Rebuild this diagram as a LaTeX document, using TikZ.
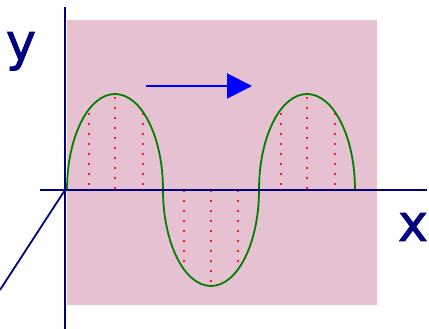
\documentclass[tikz,border=0pt]{standalone}
\usepackage{fontspec}
\newfontfamily\labelfont[FakeBold=1.5]{DejaVu Sans}
\usetikzlibrary{arrows.meta}
\definecolor{wavebg}{RGB}{230,193,210}
\definecolor{axisnavy}{RGB}{0,0,128}
\definecolor{wavegreen}{RGB}{0,128,0}
\definecolor{dotred}{RGB}{255,30,30}
\begin{document}
\begin{tikzpicture}[x=1pt, y=1pt, line width=1.8pt]
\tikzset{
	wvaxis/.style={draw=axisnavy, line width=1.8pt},
	wvcurve/.style={draw=wavegreen, line width=1.8pt},
	wvdot/.style={fill=dotred},
	wvlabel/.style={text=axisnavy, anchor=base, inner sep=0pt, font=\labelfont\fontsize{51}{60}\selectfont},
	wvarrow/.style={draw=blue, line width=2pt, -{Triangle[length=25pt, width=25pt]}}
}
\useasboundingbox (-65,-139) rectangle (364,190);

\fill[wavebg] (2,-115) rectangle (312,170);

\foreach \cx in {50,242} {
	\foreach \k in {0,...,9}
		\fill[wvdot] (\cx-1,2+10*\k-1) rectangle (\cx+1,2+10*\k+1);
	\foreach \k in {0,...,7} {
		\fill[wvdot] (\cx-27,6+10*\k-1) rectangle (\cx-25,6+10*\k+1);
		\fill[wvdot] (\cx+27,6+10*\k-1) rectangle (\cx+29,6+10*\k+1);
	}
}
\foreach \k in {0,...,9}
	\fill[wvdot] (145,-1-10*\k-1) rectangle (147,-1-10*\k+1);
\foreach \k in {0,...,7} {
	\fill[wvdot] (118,-1-10*\k-1) rectangle (120,-1-10*\k+1);
	\fill[wvdot] (172,-1-10*\k-1) rectangle (174,-1-10*\k+1);
}

\draw[wvcurve] (2,0) arc[start angle=180, end angle=0, x radius=48, y radius=96]
	arc[start angle=180, end angle=360, x radius=48, y radius=96]
	arc[start angle=180, end angle=0, x radius=48, y radius=96];

\coordinate (origin) at (0,0);
\coordinate (ytop) at (0,183);
\coordinate (ybottom) at (0,-139);
\coordinate (xleft) at (-25,0);
\coordinate (xright) at (362,0);
\coordinate (zend) at (-65,-100);
\draw[wvaxis] (ybottom) -- (ytop);
\draw[wvaxis] (xleft) -- (xright);
\draw[wvaxis] (origin) -- (zend);

\coordinate (arrowstart) at (81,104);
\coordinate (arrowend) at (187,104);
\draw[wvarrow] (arrowstart) -- (arrowend);

\node[wvlabel] (ylabel) at (-44,130) {y};
\node[wvlabel] (xlabel) at (348,-51) {x};
\end{tikzpicture}
\end{document}
